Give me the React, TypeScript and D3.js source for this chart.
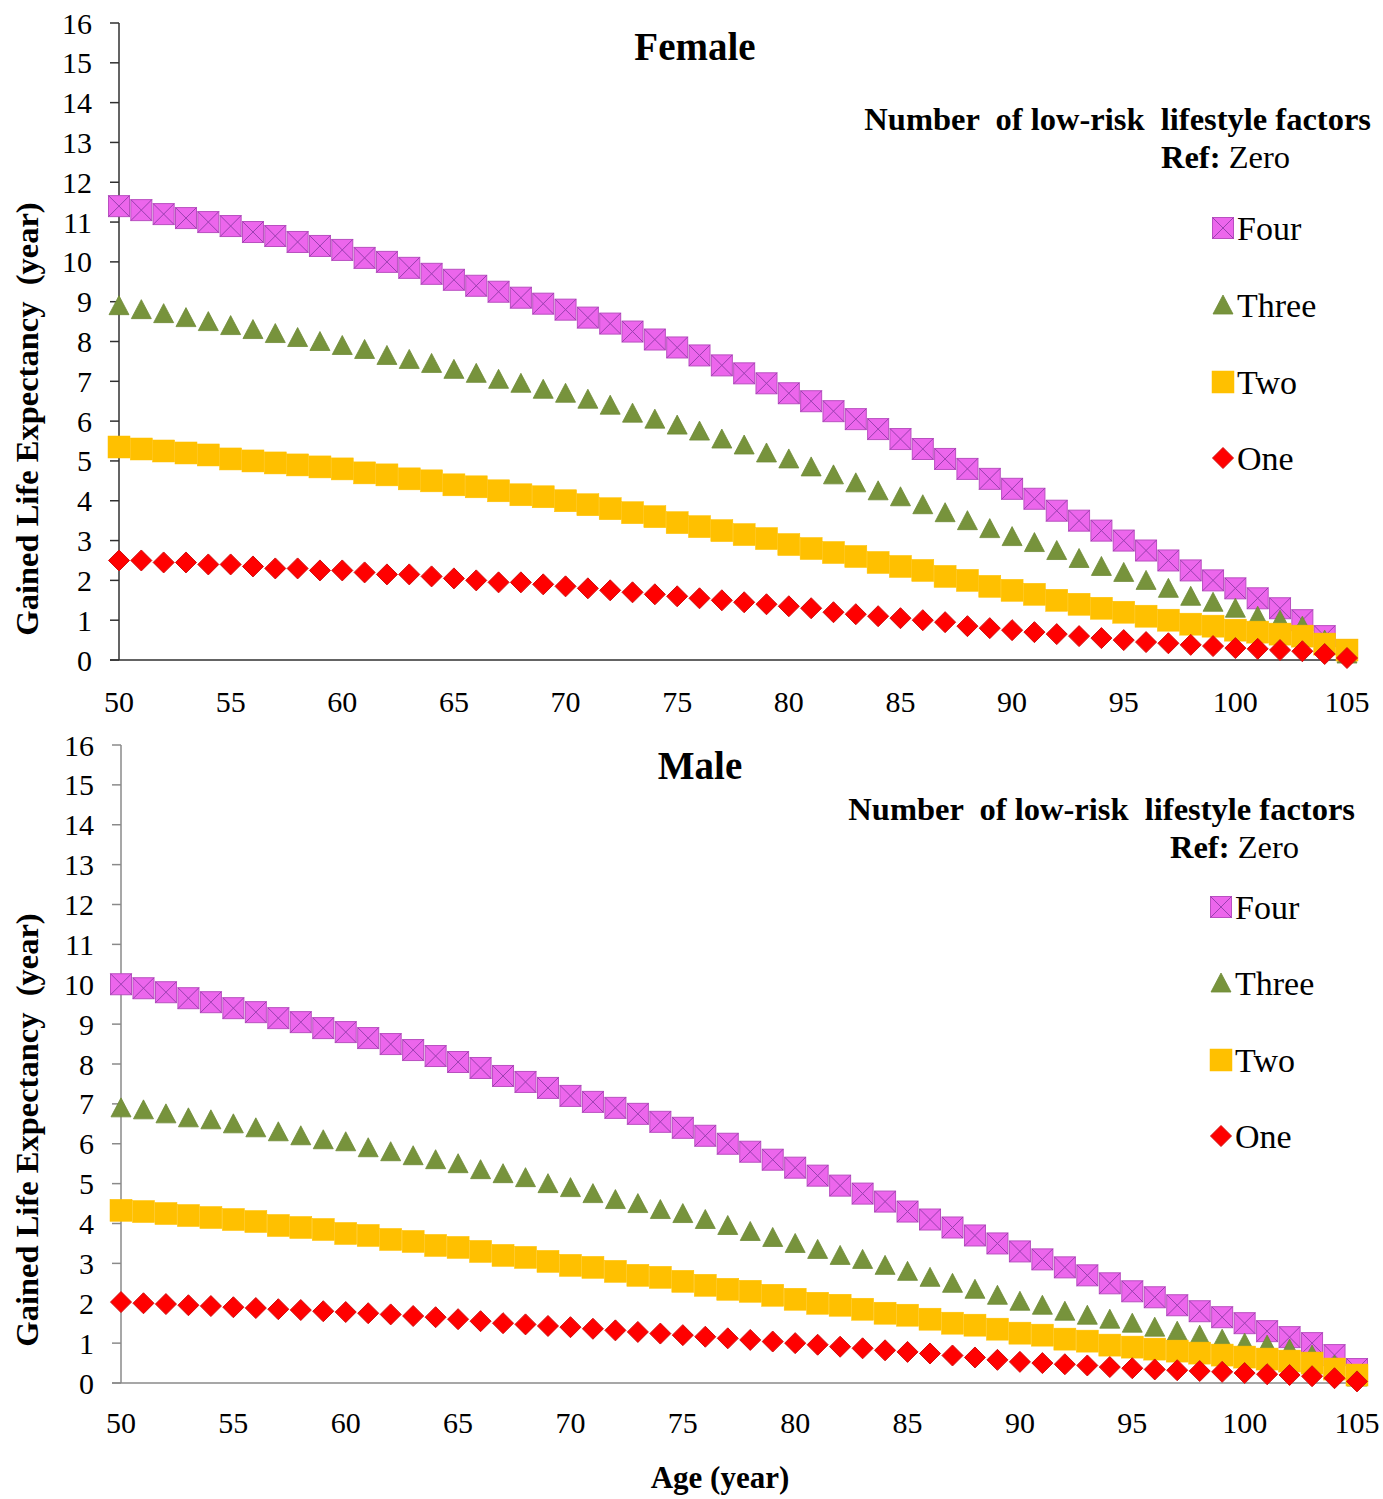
import React from 'react';
import * as d3 from 'd3';

// Ages 50..105, one point per year
const ages = d3.range(50, 106);

const femaleFour = [
  11.4, 11.3, 11.2, 11.1, 11.0, 10.9, 10.75, 10.65, 10.5, 10.4,
  10.3, 10.1, 10.0, 9.85, 9.7, 9.55, 9.4, 9.25, 9.1, 8.95,
  8.8, 8.6, 8.45, 8.25, 8.05, 7.85, 7.65, 7.4, 7.2, 6.95,
  6.7, 6.5, 6.25, 6.05, 5.8, 5.55, 5.3, 5.05, 4.8, 4.55,
  4.3, 4.05, 3.75, 3.5, 3.25, 3.0, 2.75, 2.5, 2.25, 2.0,
  1.8, 1.55, 1.3, 1.0, 0.6, 0.25,
];
const femaleThree = [
  8.9, 8.8, 8.7, 8.6, 8.5, 8.4, 8.3, 8.2, 8.1, 8.0,
  7.9, 7.8, 7.65, 7.55, 7.45, 7.3, 7.2, 7.05, 6.95, 6.8,
  6.7, 6.55, 6.4, 6.2, 6.05, 5.9, 5.75, 5.55, 5.4, 5.2,
  5.05, 4.85, 4.65, 4.45, 4.25, 4.1, 3.9, 3.7, 3.5, 3.3,
  3.1, 2.95, 2.75, 2.55, 2.35, 2.2, 2.0, 1.8, 1.6, 1.45,
  1.3, 1.1, 1.0, 0.85, 0.5, 0.15,
];
const femaleTwo = [
  5.35, 5.3, 5.25, 5.2, 5.15, 5.05, 5.0, 4.95, 4.9, 4.85,
  4.8, 4.7, 4.65, 4.55, 4.5, 4.4, 4.35, 4.25, 4.15, 4.1,
  4.0, 3.9, 3.8, 3.7, 3.6, 3.45, 3.35, 3.25, 3.15, 3.05,
  2.9, 2.8, 2.7, 2.6, 2.45, 2.35, 2.25, 2.1, 2.0, 1.85,
  1.75, 1.65, 1.5, 1.4, 1.3, 1.2, 1.1, 1.0, 0.9, 0.85,
  0.75, 0.7, 0.65, 0.6, 0.4, 0.25,
];
const femaleOne = [
  2.5, 2.5, 2.45, 2.45, 2.4, 2.4, 2.35, 2.3, 2.3, 2.25,
  2.25, 2.2, 2.15, 2.15, 2.1, 2.05, 2.0, 1.95, 1.95, 1.9,
  1.85, 1.8, 1.75, 1.7, 1.65, 1.6, 1.55, 1.5, 1.45, 1.4,
  1.35, 1.3, 1.2, 1.15, 1.1, 1.05, 1.0, 0.95, 0.85, 0.8,
  0.75, 0.7, 0.65, 0.6, 0.55, 0.5, 0.45, 0.42, 0.38, 0.35,
  0.3, 0.28, 0.25, 0.22, 0.15, 0.05,
];

const maleFour = [
  10.0, 9.9, 9.8, 9.65, 9.55, 9.4, 9.3, 9.15, 9.05, 8.9,
  8.8, 8.65, 8.5, 8.35, 8.2, 8.05, 7.9, 7.7, 7.55, 7.4,
  7.2, 7.05, 6.9, 6.75, 6.55, 6.4, 6.2, 6.0, 5.8, 5.6,
  5.4, 5.2, 4.95, 4.75, 4.55, 4.3, 4.1, 3.9, 3.7, 3.5,
  3.3, 3.1, 2.9, 2.7, 2.5, 2.3, 2.15, 1.95, 1.8, 1.65,
  1.5, 1.3, 1.15, 1.0, 0.7, 0.35,
];
const maleThree = [
  6.9, 6.85, 6.75, 6.65, 6.6, 6.5, 6.4, 6.3, 6.2, 6.1,
  6.05, 5.9, 5.8, 5.7, 5.6, 5.5, 5.35, 5.25, 5.15, 5.0,
  4.9, 4.75, 4.6, 4.5, 4.35, 4.25, 4.1, 3.95, 3.8, 3.65,
  3.5, 3.35, 3.2, 3.1, 2.95, 2.8, 2.65, 2.5, 2.35, 2.2,
  2.05, 1.95, 1.8, 1.7, 1.6, 1.5, 1.4, 1.3, 1.2, 1.1,
  1.0, 0.95, 0.85, 0.7, 0.45, 0.15,
];
const maleTwo = [
  4.33, 4.3, 4.25, 4.2, 4.15, 4.1, 4.05, 3.95, 3.9, 3.85,
  3.75, 3.7, 3.6, 3.55, 3.45, 3.4, 3.3, 3.2, 3.15, 3.05,
  2.95, 2.9, 2.8, 2.7, 2.65, 2.55, 2.45, 2.35, 2.3, 2.2,
  2.1, 2.0, 1.95, 1.85, 1.75, 1.7, 1.6, 1.5, 1.45, 1.35,
  1.25, 1.2, 1.1, 1.05, 0.95, 0.9, 0.85, 0.8, 0.75, 0.7,
  0.65, 0.6, 0.55, 0.5, 0.35, 0.2,
];
const maleOne = [
  2.03, 2.0, 1.98, 1.95, 1.93, 1.9, 1.88, 1.85, 1.83, 1.8,
  1.78, 1.75, 1.72, 1.68, 1.65, 1.6, 1.55, 1.5, 1.47, 1.43,
  1.4, 1.36, 1.32, 1.28, 1.24, 1.2, 1.16, 1.12, 1.08, 1.04,
  1.0, 0.96, 0.91, 0.87, 0.82, 0.78, 0.74, 0.69, 0.64, 0.58,
  0.53, 0.5, 0.47, 0.44, 0.4, 0.37, 0.34, 0.32, 0.3, 0.28,
  0.25, 0.22, 0.2, 0.17, 0.12, 0.04,
];

const seriesNames = ['Four', 'Three', 'Two', 'One'];
const xTicks = d3.range(50, 106, 5);
const yTicks = d3.range(0, 17, 1);

const FONT = '"Liberation Serif", "Times New Roman", serif';

type Kind = 'Four' | 'Three' | 'Two' | 'One';

// marker glyphs, centred on 0,0
const Marker = ({ kind, x, y }: { kind: Kind; x: number; y: number }) => {
  if (kind === 'Four') {
    const s = 10.5;
    return (
      <g transform={`translate(${x},${y})`}>
        <rect x={-s} y={-s} width={2 * s} height={2 * s} fill="#EC66EC" stroke="#B94FC0" strokeWidth={1} />
        <path d={`M${-s},${-s}L${s},${s}M${-s},${s}L${s},${-s}`} stroke="#9A3FB0" strokeWidth={1} />
      </g>
    );
  }
  if (kind === 'Three') {
    return (
      <path
        transform={`translate(${x},${y})`}
        d="M0,-10L10,9L-10,9Z"
        fill="#77933C"
        stroke="#6E8A36"
        strokeWidth={0.8}
      />
    );
  }
  if (kind === 'Two') {
    const s = 11;
    return <rect x={x - s} y={y - s} width={2 * s} height={2 * s} fill="#FFC000" stroke="#FFC000" strokeWidth={0.5} />;
  }
  return (
    <path
      transform={`translate(${x},${y})`}
      d="M0,-10.5L10.5,0L0,10.5L-10.5,0Z"
      fill="#FF0000"
      stroke="#D01010"
      strokeWidth={1}
    />
  );
};

interface PanelProps {
  title: string;
  titleX: number;
  titleY: number;
  x0: number;
  x1: number;
  yTop: number;
  yBottom: number;
  axisColor: string;
  xLabelY: number;
  headerRight: number;
  headerY: number;
  refRight: number;
  legendX: number;
  legendYs: number[];
  values: number[][];
}

const Panel = (p: PanelProps) => {
  const x = d3.scaleLinear().domain([50, 105]).range([p.x0, p.x1]);
  const y = d3.scaleLinear().domain([0, 16]).range([p.yBottom, p.yTop]);
  const kinds = seriesNames as Kind[];

  return (
    <g fontFamily={FONT} fill="#000">
      {/* axes */}
      <line x1={p.x0 - 9} x2={p.x1 + 8} y1={y(0)} y2={y(0)} stroke={p.axisColor} strokeWidth={1.5} />
      <line x1={p.x0} x2={p.x0} y1={y(16)} y2={y(0)} stroke={p.axisColor} strokeWidth={1.5} />
      {yTicks.map(t => (
        <g key={t}>
          <line x1={p.x0 - 9} x2={p.x0} y1={y(t)} y2={y(t)} stroke={p.axisColor} strokeWidth={1.5} />
          <text x={p.x0 - 27} y={y(t)} dy="0.35em" textAnchor="end" fontSize={30}>
            {t}
          </text>
        </g>
      ))}
      {xTicks.map(t => (
        <text key={t} x={x(t)} y={p.xLabelY} dy="0.35em" textAnchor="middle" fontSize={30}>
          {t}
        </text>
      ))}

      {/* series, Four at the back */}
      {kinds.map((k, i) => (
        <g key={k}>
          {ages.map((a, j) => (
            <Marker key={a} kind={k} x={x(a)} y={y(p.values[i][j])} />
          ))}
        </g>
      ))}

      {/* titles and legend */}
      <text x={p.titleX} y={p.titleY} dy="0.35em" textAnchor="middle" fontSize={39} fontWeight="bold">
        {p.title}
      </text>
      <text
        x={p.headerRight}
        y={p.headerY}
        dy="0.35em"
        textAnchor="end"
        fontSize={32.5}
        fontWeight="bold"
        style={{ whiteSpace: 'pre' }}
      >
        {'Number  of low-risk  lifestyle factors'}
      </text>
      <text x={p.refRight} y={p.headerY + 38} dy="0.35em" textAnchor="end" fontSize={32.5}>
        <tspan fontWeight="bold">Ref:</tspan>
        <tspan> Zero</tspan>
      </text>
      {kinds.map((k, i) => (
        <g key={k}>
          <Marker kind={k} x={p.legendX} y={p.legendYs[i]} />
          <text x={p.legendX + 14} y={p.legendYs[i]} dy="0.35em" fontSize={34}>
            {k}
          </text>
        </g>
      ))}
    </g>
  );
};

const App = () => {
  return (
    <svg
      width={1383}
      height={1499}
      style={{ position: 'absolute', left: 0, top: 0, background: '#fff' }}
    >
      <Panel
        title="Female"
        titleX={695}
        titleY={46}
        x0={119}
        x1={1347}
        yTop={23}
        yBottom={660}
        axisColor="#303030"
        xLabelY={701}
        headerRight={1371}
        headerY={119}
        refRight={1290}
        legendX={1223}
        legendYs={[228, 305, 382, 458]}
        values={[femaleFour, femaleThree, femaleTwo, femaleOne]}
      />
      <Panel
        title="Male"
        titleX={700}
        titleY={765}
        x0={121}
        x1={1357}
        yTop={745}
        yBottom={1383}
        axisColor="#8a8a8a"
        xLabelY={1422}
        headerRight={1355}
        headerY={809}
        refRight={1299}
        legendX={1221}
        legendYs={[907, 983, 1060, 1136]}
        values={[maleFour, maleThree, maleTwo, maleOne]}
      />
      <text
        transform="translate(27,419) rotate(-90)"
        dy="0.35em"
        textAnchor="middle"
        fontFamily={FONT}
        fontSize={32.5}
        fontWeight="bold"
        style={{ whiteSpace: 'pre' }}
      >
        {'Gained Life Expectancy  (year)'}
      </text>
      <text
        transform="translate(27,1130) rotate(-90)"
        dy="0.35em"
        textAnchor="middle"
        fontFamily={FONT}
        fontSize={32.5}
        fontWeight="bold"
        style={{ whiteSpace: 'pre' }}
      >
        {'Gained Life Expectancy  (year)'}
      </text>
      <text x={720} y={1477} dy="0.35em" textAnchor="middle" fontFamily={FONT} fontSize={31} fontWeight="bold">
        Age (year)
      </text>
    </svg>
  );
};

export default App;
